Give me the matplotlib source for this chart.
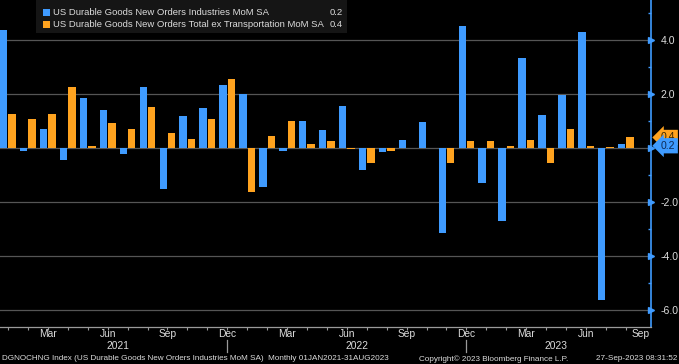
import matplotlib
matplotlib.use('Agg')
import matplotlib.pyplot as plt
import matplotlib.transforms as mtransforms
from matplotlib.patches import Rectangle

plt.rcParams['font.family'] = ['Liberation Sans', 'DejaVu Sans']

# monthly values, Jan 2021 .. Aug 2023
months = ['Jan', 'Feb', 'Mar', 'Apr', 'May', 'Jun', 'Jul', 'Aug', 'Sep', 'Oct', 'Nov', 'Dec'] * 2 + \
         ['Jan', 'Feb', 'Mar', 'Apr', 'May', 'Jun', 'Jul', 'Aug']
durable = [4.37, -0.10, 0.73, -0.42, 1.85, 1.41, -0.23, 2.28, -1.52, 1.19, 1.48, 2.35,
           2.02, -1.43, -0.11, 1.00, 0.68, 1.58, -0.80, -0.15, 0.30, 0.97, -3.12, 4.52,
           -1.27, -2.70, 3.33, 1.23, 1.98, 4.30, -5.62, 0.17]
ex_transport = [1.28, 1.07, 1.26, 2.26, 0.09, 0.95, 0.70, 1.53, 0.57, 0.36, 1.10, 2.56,
                -1.63, 0.46, 1.02, 0.14, 0.27, -0.02, -0.53, -0.10, 0.01, 0.01, -0.56, 0.27,
                0.27, 0.09, 0.30, -0.56, 0.73, 0.09, 0.06, 0.40]
years = ['2021', '2022', '2023']
year_pos = [5.5, 17.5, 27.5]
year_sep = [11, 23]
label_months = ['Mar', 'Jun', 'Sep', 'Dec']
legend_names = ['US Durable Goods New Orders Industries MoM SA',
                'US Durable Goods New Orders Total ex Transportation MoM SA']
last_vals = ['0.2', '0.4']
footer_left = 'DGNOCHNG Index (US Durable Goods New Orders Industries MoM SA)  Monthly 01JAN2021-31AUG2023'
footer_mid = 'Copyright\u00a9 2023 Bloomberg Finance L.P.'
footer_right = '27-Sep-2023 08:31:52'

BLUE = '#3f9bff'
ORANGE = '#ffa31f'
TXT = '#dcdcdc'
GRID = '#555555'

W, H = 679, 364
fig = plt.figure(figsize=(W / 100, H / 100), dpi=100, facecolor='black')
ax = fig.add_axes([0, 1 - 327.3 / H, 651 / W, 327.3 / H])
ax.set_facecolor('black')

x = list(range(len(durable)))
bw = 0.37
ax.bar([i - 0.21 for i in x], durable, width=bw, color=BLUE, zorder=3)
ax.bar([i + 0.21 for i in x], ex_transport, width=bw, color=ORANGE, zorder=3)

ax.set_xlim(-0.40, 32.26)
ax.set_ylim(-6.63, 5.49)

# y axis on right
ax.yaxis.tick_right()
yt = [-6, -4, -2, 0, 2, 4]
ax.set_yticks(yt)
ax.set_yticklabels(['%.1f' % v for v in yt], color=TXT, fontsize=7.6)
ax.set_yticks([-5, -3, -1, 1, 3, 5], minor=True)
ax.tick_params(axis='y', which='major', length=0, pad=7)
ax.tick_params(axis='y', which='minor', direction='in', length=2.5, color=BLUE, width=1)
for v in yt:
    ax.axhline(v, color=GRID, lw=0.9, zorder=1)
ax.plot([1.0] * len(yt), yt, linestyle='none', marker='>', markersize=4.5, color=BLUE,
        transform=mtransforms.blended_transform_factory(ax.transAxes, ax.transData),
        clip_on=False, zorder=5)

# x axis
ax.set_xticks(x)
ax.set_xticklabels([])
ax.tick_params(axis='x', which='major', direction='out', length=2.5, color='#9a9a9a', width=0.8)
for s in ['left', 'top']:
    ax.spines[s].set_visible(False)
ax.spines['right'].set_color(BLUE)
ax.spines['right'].set_linewidth(1.2)
ax.spines['bottom'].set_color('#9a9a9a')
ax.spines['bottom'].set_linewidth(0.9)

xtr = ax.get_xaxis_transform()
axh = 327.3
for i, m in enumerate(months + ['Sep']):
    if m in label_months:
        xp = i if i < 32 else 31.75
        ax.text(xp, -(334 - axh) / axh, m, transform=xtr, ha='center', va='center',
                color=TXT, fontsize=7.4, clip_on=False)
for yr, p in zip(years, year_pos):
    ax.text(p, -(345.7 - axh) / axh, yr, transform=xtr, ha='center', va='center',
            color=TXT, fontsize=7.4, clip_on=False)
for p in year_sep:
    ax.plot([p, p], [-(340 - axh) / axh, -(352 - axh) / axh], transform=xtr,
            color='#9a9a9a', lw=0.9, clip_on=False)

# last value tags on the right axis
btr = mtransforms.blended_transform_factory(ax.transAxes, ax.transData)
ax.annotate(last_vals[1], xy=(1.0, ex_transport[-1]), xycoords=btr, xytext=(7, 0),
            textcoords='offset points', va='center', ha='left', fontsize=7.6, color='#3a2500',
            bbox=dict(boxstyle='larrow,pad=0.25', fc=ORANGE, ec='none'), zorder=6,
            annotation_clip=False)
ax.annotate(last_vals[0], xy=(1.0, durable[-1]), xycoords=btr, xytext=(7, -1.5),
            textcoords='offset points', va='center', ha='left', fontsize=7.6, color='#0d2a55',
            bbox=dict(boxstyle='larrow,pad=0.25', fc=BLUE, ec='none'), zorder=7,
            annotation_clip=False)

# legend box
fig.patches.append(Rectangle((36 / W, 1 - 33 / H), (347 - 36) / W, 33 / H,
                             transform=fig.transFigure, facecolor='#151515',
                             edgecolor='none', zorder=10))
for k, (name, val, col) in enumerate(zip(legend_names, last_vals, [BLUE, ORANGE])):
    yc = 12.5 + 12 * k
    fig.patches.append(Rectangle((43 / W, 1 - (yc + 3.5) / H), 7 / W, 7 / H,
                                 transform=fig.transFigure, facecolor=col,
                                 edgecolor='none', zorder=11))
    fig.text(53 / W, 1 - yc / H, name, ha='left', va='center', color=TXT,
             fontsize=6.8, zorder=12)
    fig.text(343 / W, 1 - yc / H, val, ha='right', va='center', color=TXT,
             fontsize=6.8, zorder=12)

# footer
fy = 1 - 358.7 / H
fig.text(2 / W, fy, footer_left, ha='left', va='center', color=TXT, fontsize=5.9)
fig.text(494 / W, fy, footer_mid, ha='center', va='center', color=TXT, fontsize=5.9)
fig.text(677 / W, fy, footer_right, ha='right', va='center', color=TXT, fontsize=5.9)

fig.savefig('out.png', dpi=100, facecolor='black')
